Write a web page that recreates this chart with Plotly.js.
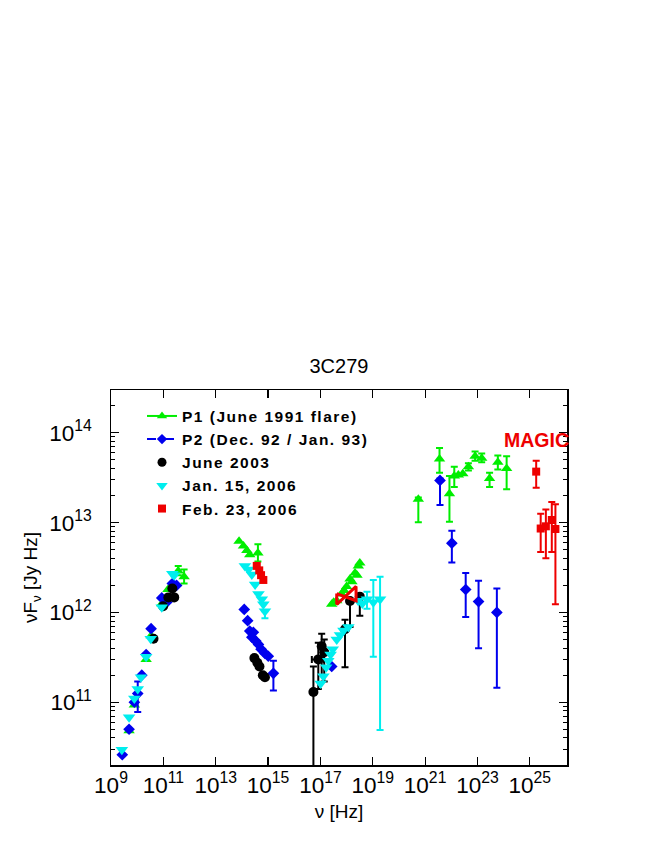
<!DOCTYPE html>
<html>
<head>
<meta charset="utf-8">
<script src="https://cdn.plot.ly/plotly-3.0.1.min.js"></script>
<style>
html,body{margin:0;padding:0;background:#fff;}
#chart .legend .legendtext{letter-spacing:1.5px;}
#chart .legend, #chart .legend .scrollbox, #chart .legend g{clip-path:none !important;}
</style>
</head>
<body>
<div id="chart" style="width:664px;height:860px;"></div>
<script>
// ---- Data (frequency in Hz, nuF_nu in Jy Hz; hi/lo = error-bar ends, null = none) ----
const seriesNames = ["P1 (June 1991 flare)", "P2 (Dec. 92 / Jan. 93)", "June 2003", "Jan. 15, 2006", "Feb. 23, 2006"];

// P1 (June 1991 flare)
const p1Nu = [4.9e9, 7.8e9, 2.2e10, 3.4e10, 8.7e10, 1.5e11, 3.7e11, 6.2e11,
  7.8e13, 1.15e14, 1.55e14, 2.0e14, 4.1e14,
  2.7e17, 3.2e17, 4.2e17, 6.5e17, 8.0e17, 1.0e18, 1.35e18, 1.6e18, 2.1e18, 2.5e18, 2.8e18, 3.2e18,
  5.5e20, 3.55e21, 8.5e21, 1.3e22, 1.86e22, 2.75e22, 4.5e22, 8.1e22, 1.45e23, 2.9e23, 6.0e23, 1.3e24];
const p1F = [4.8e10, 9.3e10, 3.0e11, 5.5e11, 1.25e12, 1.8e12, 2.9e12, 2.5e12,
  6.2e12, 5.5e12, 4.9e12, 4.4e12, 4.6e12,
  1.23e12, 1.3e12, 1.35e12, 1.6e12, 1.75e12, 1.95e12, 2.35e12, 2.2e12, 2.75e12, 2.6e12, 3.3e12, 3.55e12,
  1.82e13, 5.1e13, 2.1e13, 3.3e13, 3.4e13, 3.5e13, 4.2e13, 5.5e13, 5.2e13, 3.1e13, 4.7e13, 4.0e13];
const p1Hi = [null, null, null, null, null, null, 3.3e12, 3.0e12,
  null, null, null, null, 5.75e12,
  null, null, null, null, null, null, null, null, null, null, null, null,
  1.9e13, 6.8e13, 3.3e13, 4.2e13, null, null, 4.6e13, 6.2e13, 5.9e13, 3.6e13, 5.6e13, 5.5e13];
const p1Lo = [null, null, null, null, null, null, 2.6e12, 2.1e12,
  null, null, null, null, 3.7e12,
  null, null, null, null, null, null, null, null, null, null, null, null,
  1.01e13, 3.6e13, 1.02e13, 2.5e13, null, null, 3.8e13, 4.9e13, 4.7e13, 2.5e13, 3.9e13, 2.35e13];

// P2 (Dec. 92 / Jan. 93)
const p2Nu = [2.7e9, 4.9e9, 7.8e9, 1.05e10, 1.5e10, 2.2e10, 3.4e10, 8.7e10, 1.35e11, 2.2e11, 3.2e11,
  1.23e14, 1.66e14, 2.0e14, 2.4e14, 2.75e14, 3.4e14, 4.3e14, 5.4e14, 7.6e14, 1.02e15, 1.6e15,
  2.7e17,
  3.7e21, 1.05e22, 3.55e22, 1.1e23, 5.5e23];
const p2F = [2.6e10, 5.0e10, 1.0e11, 1.25e11, 2.0e11, 3.4e11, 6.6e11, 1.45e12, 1.3e12, 2.1e12, 2.0e12,
  1.08e12, 8.1e11, 6.2e11, 5.3e11, 6.0e11, 4.8e11, 4.4e11, 3.9e11, 3.5e11, 3.25e11, 2.1e11,
  2.5e11,
  2.95e13, 5.9e12, 1.8e12, 1.32e12, 1.0e12];
const p2Hi = [null, null, null, 1.7e11, null, null, null, null, null, null, null,
  null, null, null, null, null, null, null, null, null, null, 2.9e11,
  null,
  3.1e13, 8.1e12, 2.75e12, 2.25e12, 1.85e12];
const p2Lo = [null, null, null, 7.8e10, null, null, null, null, null, null, null,
  null, null, null, null, null, null, null, null, null, null, 1.35e11,
  null,
  1.57e13, 3.6e12, 8.9e11, 4.0e11, 1.45e11];

// June 2003
const j03Nu = [4.2e10, 9.8e10, 1.55e11, 2.2e11, 2.6e11,
  3.0e14, 3.9e14, 4.7e14, 6.3e14, 7.6e14,
  5.4e16, 8.3e16, 1.12e17, 1.4e17, 8.7e17, 1.35e18, 3.2e18];
const j03F = [5.1e11, 1.17e12, 1.47e12, 1.85e12, 1.47e12,
  3.1e11, 2.75e11, 2.5e11, 2.0e11, 1.9e11,
  1.3e11, 3.0e11, 4.2e11, 3.6e11, 6.5e11, 1.34e12, 1.5e12];
const j03Hi = [null, null, null, null, null,
  null, null, null, null, null,
  2.5e11, 4.6e11, 5.8e11, 5.0e11, 8.3e11, 1.34e12, 1.5e12];
const j03Lo = [null, null, null, null, null,
  null, null, null, null, null,
  1.0e10, 1.4e11, 2.0e11, 1.7e11, 2.45e11, 6.9e11, 9.2e11];
const j03NuLo = [null, null, null, null, null, null, null, null, null, null,
  null, 4.7e16, null, null, null, null, null];
const j03NuHi = [null, null, null, null, null, null, null, null, null, null,
  null, 1.32e17, null, null, null, null, null];

// Jan. 15, 2006
const j06Nu = [2.6e9, 4.9e9, 7.8e9, 1.05e10, 1.4e10, 2.2e10, 3.3e10, 8.7e10, 2.2e11, 2.6e11,
  1.3e14, 1.8e14, 2.4e14, 3.2e14, 4.3e14, 5.75e14, 6.6e14, 7.6e14,
  1.02e17, 1.3e17, 1.66e17, 2.0e17, 2.45e17, 2.95e17, 4.2e17, 5.6e17, 7.6e17, 1.17e18,
  2.8e18, 4.0e18, 6.0e18, 1.05e19, 1.9e19];
const j06F = [2.95e10, 6.8e10, 1.1e11, 1.4e11, 1.9e11, 3.2e11, 5.1e11, 1.14e12, 2.7e12, 2.6e12,
  3.3e12, 3.0e12, 2.65e12, 2.05e12, 1.6e12, 1.4e12, 1.23e12, 1.03e12,
  1.62e11, 1.95e11, 2.45e11, 2.9e11, 3.4e11, 3.9e11, 5.0e11, 5.6e11, 6.3e11, 6.9e11,
  1.35e12, 1.26e12, 1.4e12, 1.3e12, 1.4e12];
const j06Hi = [null, null, null, null, null, null, null, null, null, null,
  null, null, null, null, null, null, null, 1.03e12,
  null, null, null, null, null, null, null, null, null, null,
  null, null, 1.7e12, 2.3e12, 2.5e12];
const j06Lo = [null, null, null, null, null, null, null, null, null, null,
  null, null, null, null, null, null, null, 8.6e11,
  null, null, null, null, null, null, null, null, null, null,
  null, null, 1.1e12, 3.2e11, 4.9e10];

// Feb. 23, 2006 (optical + MAGIC)
const f06Nu = [3.7e14, 4.6e14, 5.4e14, 6.6e14,
  1.75e25, 2.6e25, 4.1e25, 6.9e25, 9.5e25];
const f06F = [3.3e12, 2.94e12, 2.6e12, 2.3e12,
  3.7e13, 8.6e12, 9.1e12, 1.07e13, 8.5e12];
const f06Hi = [null, null, null, null,
  4.9e13, 1.26e13, 1.4e13, 1.7e13, 1.6e13];
const f06Lo = [null, null, null, null,
  2.45e13, 4.7e12, 4.0e12, 4.7e12, 1.23e12];

// X-ray bow-tie (Feb. 23, 2006)
const bowNu = [4.2e17, 2.3e18, 2.3e18, 4.2e17, 4.2e17];
const bowF = [1.62e12, 1.35e12, 1.95e12, 1.23e12, 1.62e12];

// ---- Helpers ----
function errY(v, hi, lo, color) {
  return {
    type: 'data', symmetric: false, color: color, thickness: 2, width: 3.5,
    array: v.map((y, i) => hi[i] == null ? NaN : hi[i] - y),
    arrayminus: v.map((y, i) => lo[i] == null ? NaN : y - lo[i])
  };
}
function errX(v, hi, lo, color) {
  return {
    type: 'data', symmetric: false, color: color, thickness: 2, width: 3.5,
    array: v.map((x, i) => hi[i] == null ? NaN : hi[i] - x),
    arrayminus: v.map((x, i) => lo[i] == null ? NaN : x - lo[i])
  };
}

const GREEN = '#00ee00', BLUE = '#0000ee', BLACK = '#000000', CYAN = '#00eeee', RED = '#ee0000';

const traces = [
  {x: p1Nu, y: p1F, mode: 'markers', showlegend: false,
   marker: {symbol: 'triangle-up', size: 10, color: GREEN},
   error_y: errY(p1F, p1Hi, p1Lo, GREEN)},
  {x: p2Nu, y: p2F, mode: 'markers', showlegend: false,
   marker: {symbol: 'diamond', size: 9, color: BLUE},
   error_y: errY(p2F, p2Hi, p2Lo, BLUE)},
  {x: j03Nu, y: j03F, mode: 'markers', showlegend: false,
   marker: {symbol: 'circle', size: 10, color: BLACK},
   error_y: errY(j03F, j03Hi, j03Lo, BLACK),
   error_x: errX(j03Nu, j03NuHi, j03NuLo, BLACK)},
  {x: j06Nu, y: j06F, mode: 'markers', showlegend: false,
   marker: {symbol: 'triangle-down', size: 11, color: CYAN},
   error_y: errY(j06F, j06Hi, j06Lo, CYAN)},
  {x: f06Nu, y: f06F, mode: 'markers', showlegend: false,
   marker: {symbol: 'square', size: 8, color: RED},
   error_y: errY(f06F, f06Hi, f06Lo, RED)},
  {x: bowNu, y: bowF, mode: 'lines', showlegend: false,
   line: {color: RED, width: 3}},
  // legend entries
  {x: [null], y: [null], name: seriesNames[0], mode: 'lines+markers',
   line: {color: GREEN, width: 2}, marker: {symbol: 'triangle-up', size: 9, color: GREEN}},
  {x: [null], y: [null], name: seriesNames[1], mode: 'lines+markers',
   line: {color: BLUE, width: 2, dash: 'dash'}, marker: {symbol: 'diamond', size: 8, color: BLUE}},
  {x: [null], y: [null], name: seriesNames[2], mode: 'markers',
   marker: {symbol: 'circle', size: 9, color: BLACK}},
  {x: [null], y: [null], name: seriesNames[3], mode: 'markers',
   marker: {symbol: 'triangle-down', size: 10, color: CYAN}},
  {x: [null], y: [null], name: seriesNames[4], mode: 'markers',
   marker: {symbol: 'square', size: 8, color: RED}}
];

const FONT = 'Liberation Sans, Arial, Helvetica, sans-serif';

const layout = {
  width: 664, height: 860,
  margin: {l: 111, r: 97, t: 390, b: 95},
  paper_bgcolor: '#ffffff', plot_bgcolor: '#ffffff',
  font: {family: FONT, size: 18, color: '#000'},
  title: {text: '3C279', font: {family: FONT, size: 20, color: '#000'},
          x: 0.5105, xanchor: 'center', y: 1 - 366 / 860, yref: 'container', yanchor: 'middle'},
  xaxis: {
    type: 'log', range: [9, 26.42], autorange: false,
    tick0: 1, dtick: 2,
    exponentformat: 'power', showexponent: 'all',
    ticks: 'inside', ticklen: 8, tickwidth: 1.2, tickcolor: '#000',
    showline: true, linecolor: '#000', linewidth: 1.5, mirror: 'ticks',
    showgrid: false, zeroline: false,
    tickfont: {family: FONT, size: 18, color: '#000'},
    title: {text: 'ν [Hz]', font: {family: FONT, size: 19, color: '#000'}, standoff: 8}
  },
  yaxis: {
    type: 'log', range: [Math.log10(2e10), Math.log10(3e14)], autorange: false,
    dtick: 1, exponentformat: 'power', showexponent: 'all',
    ticks: 'inside', ticklen: 8, tickwidth: 1.2, tickcolor: '#000',
    minor: {ticks: 'inside', ticklen: 4, tickwidth: 1, tickcolor: '#000', dtick: 'D1', showgrid: false},
    showline: true, linecolor: '#000', linewidth: 1.5, mirror: 'ticks',
    showgrid: false, zeroline: false,
    ticklabelstandoff: 14,
    tickfont: {family: FONT, size: 18, color: '#000'},
    title: {text: 'νF<sub>ν</sub> [Jy Hz]', font: {family: FONT, size: 19, color: '#000'}, standoff: 6}
  },
  legend: {
    x: 0.068, y: 0.975, xanchor: 'left', yanchor: 'top',
    bgcolor: 'rgba(0,0,0,0)', borderwidth: 0,
    font: {family: FONT, size: 15.5, color: '#000', weight: 'bold'},
    itemwidth: 30, tracegroupgap: 0
  },
  annotations: [{
    xref: 'x', yref: 'y', x: 23.95, y: Math.log10(8.3e13), xanchor: 'left', yanchor: 'middle',
    text: 'MAGIC', showarrow: false,
    font: {family: FONT, size: 19.5, color: RED, weight: 'bold'}
  }],
  showlegend: true
};

Plotly.newPlot('chart', traces, layout, {displayModeBar: false, staticPlot: true});
</script>
</body>
</html>
